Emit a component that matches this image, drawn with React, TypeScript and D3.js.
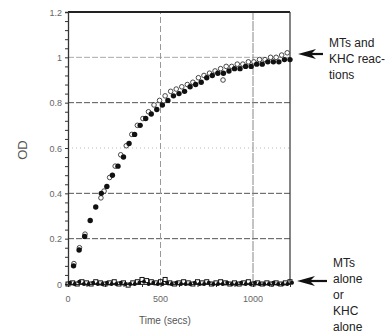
import { useRef, useEffect } from 'react';
import * as d3 from 'd3';

// reaction: filled markers
const fillTimes = [30, 60, 90, 120, 150, 180, 210, 240, 270, 300, 330, 360, 390, 420, 450, 480, 510, 540, 570, 600,
  630, 660, 690, 720, 750, 780, 810, 840, 870, 900, 930, 960, 990, 1020, 1050, 1080, 1110, 1140, 1170, 1200];
const fillOD = [0.08, 0.15, 0.21, 0.28, 0.34, 0.40, 0.43, 0.48, 0.52, 0.56, 0.62, 0.66, 0.70, 0.73, 0.75, 0.77, 0.79, 0.81, 0.83, 0.84,
  0.85, 0.87, 0.88, 0.89, 0.91, 0.92, 0.93, 0.93, 0.94, 0.95, 0.95, 0.96, 0.96, 0.97, 0.97, 0.98, 0.98, 0.98, 0.99, 0.99];

// reaction: open markers
const openTimes = [32, 62, 92, 178, 195, 225, 255, 285, 315, 345, 375, 405, 435, 465, 495, 525, 555, 585, 615, 645,
  675, 705, 735, 765, 795, 825, 838, 855, 885, 915, 945, 975, 1005, 1035, 1065, 1095, 1125, 1155, 1185];
const openOD = [0.09, 0.16, 0.22, 0.38, 0.41, 0.47, 0.52, 0.57, 0.61, 0.66, 0.70, 0.73, 0.76, 0.79, 0.81, 0.83, 0.85, 0.86, 0.87, 0.88,
  0.89, 0.91, 0.92, 0.93, 0.94, 0.95, 0.90, 0.96, 0.96, 0.97, 0.97, 0.98, 0.98, 0.99, 0.99, 1.0, 1.0, 1.01, 1.02];

// controls (MTs alone / KHC alone)
const ctrlTimes = [0, 25, 50, 75, 100, 125, 150, 175, 200, 225, 250, 275, 300, 325, 350, 375, 400, 425, 450, 475, 500,
  525, 550, 575, 600, 625, 650, 675, 700, 725, 750, 775, 800, 825, 850, 875, 900, 925, 950, 975, 1000,
  1025, 1050, 1075, 1100, 1125, 1150, 1175, 1200];
const ctrlA = [0.0, 0.005, 0.0, 0.01, 0.005, 0.0, 0.01, 0.005, 0.0, 0.005, 0.01, 0.0, 0.005, -0.005, 0.005, 0.01, 0.02, 0.015, 0.01, 0.005, 0.01,
  0.02, 0.005, 0.0, 0.005, 0.01, 0.005, 0.0, 0.01, 0.005, 0.01, 0.0, 0.005, 0.01, 0.005, 0.0, 0.005, 0.0, 0.005, 0.01, 0.0,
  0.005, 0.0, 0.005, 0.0, 0.005, 0.0, 0.005, 0.01];
const ctrlB = [0.005, 0.0, 0.01, 0.0, 0.0, 0.005, 0.0, 0.0, 0.005, 0.0, 0.0, 0.005, 0.0, 0.0, 0.0, 0.005, 0.01, 0.0, 0.005, 0.0, 0.0,
  0.005, 0.0, 0.005, 0.0, 0.0, 0.0, 0.005, 0.0, 0.0, 0.005, 0.0, 0.0, 0.0, 0.005, 0.0, 0.0, 0.005, 0.0, 0.0, 0.005,
  0.0, 0.0, 0.0, 0.005, 0.0, 0.0, 0.0, 0.005];

const yTicks = [0, 0.2, 0.4, 0.6, 0.8, 1, 1.2];
const xTicks = [0, 500, 1000];
const topLabel = ['MTs and', 'KHC reac-', 'tions'];
const bottomLabel = ['MTs', 'alone', 'or', 'KHC', 'alone'];

const App = () => {
  const svgRef = useRef(null);

  useEffect(() => {
    const svg = d3.select(svgRef.current);
    svg.selectAll('*').remove();

    const x = d3.scaleLinear().domain([0, 1200]).range([68, 290]);
    const y = d3.scaleLinear().domain([0, 1.2]).range([284, 12]);
    const grey = '#666';
    const font = 'Liberation Sans, Arial, sans-serif';

    // grid
    const g = svg.append('g');
    [0.2, 0.4, 0.8, 1].forEach((v) => {
      g.append('line').attr('x1', x(0)).attr('x2', x(1200)).attr('y1', y(v)).attr('y2', y(v))
        .attr('stroke', v === 1 ? '#aaa' : '#555').attr('stroke-width', 1).attr('stroke-dasharray', '6,2');
    });
    g.append('line').attr('x1', x(0)).attr('x2', x(1200)).attr('y1', y(0.6)).attr('y2', y(0.6))
      .attr('stroke', '#bbb').attr('stroke-dasharray', '1,3');
    [500, 1000].forEach((v) => {
      g.append('line').attr('x1', x(v)).attr('x2', x(v)).attr('y1', y(0)).attr('y2', y(1.2))
        .attr('stroke', v === 500 ? '#999' : '#888').attr('stroke-dasharray', v === 500 ? '6,3' : '10,1');
    });

    // frame
    svg.append('line').attr('x1', x(0)).attr('x2', x(1200)).attr('y1', y(1.2)).attr('y2', y(1.2))
      .attr('stroke', '#222').attr('stroke-width', 2);
    svg.append('line').attr('x1', x(1200)).attr('x2', x(1200)).attr('y1', y(1.2)).attr('y2', y(0))
      .attr('stroke', '#333').attr('stroke-width', 1.2);

    // axes
    const yAxis = d3.axisLeft(y).tickValues(d3.range(0, 1.201, 0.04)).tickSize(3).tickFormat(() => '');
    const ya = svg.append('g').attr('transform', `translate(${x(0)},0)`).call(yAxis);
    ya.selectAll('path, line').attr('stroke', '#333');
    ya.select('.domain').attr('stroke-width', 1.3);
    ya.selectAll('text').remove();
    yTicks.forEach((v) => {
      svg.append('text').attr('x', x(0) - 6).attr('y', y(v) + 3.5).attr('text-anchor', 'end')
        .attr('font-family', font).attr('font-size', 9).attr('fill', grey).text(String(v));
    });

    const xAxis = d3.axisBottom(x).tickValues(d3.range(0, 1201, 100)).tickSize(3).tickFormat(() => '');
    const xa = svg.append('g').attr('transform', `translate(0,${y(0)})`).call(xAxis);
    xa.selectAll('path, line').attr('stroke', '#333');
    xa.selectAll('text').remove();
    xTicks.forEach((v) => {
      svg.append('text').attr('x', x(v)).attr('y', y(0) + 18).attr('text-anchor', 'middle')
        .attr('font-family', font).attr('font-size', 9).attr('fill', grey).text(String(v));
    });

    svg.append('text').attr('x', 165).attr('y', 324).attr('text-anchor', 'middle')
      .attr('font-family', font).attr('font-size', 10).attr('fill', '#555').text('Time (secs)');
    svg.append('text').attr('transform', 'translate(27,150) rotate(-90)').attr('text-anchor', 'middle')
      .attr('font-family', font).attr('font-size', 13).attr('fill', '#555').text('OD');

    // controls
    const pts = svg.append('g');
    ctrlTimes.forEach((t, i) => {
      pts.append('rect').attr('x', x(t) - 2).attr('y', y(ctrlA[i]) - 2).attr('width', 4).attr('height', 4)
        .attr('fill', 'none').attr('stroke', '#111').attr('stroke-width', 1);
      pts.append('circle').attr('cx', x(t) + 2).attr('cy', y(ctrlB[i])).attr('r', 2).attr('fill', '#111');
    });

    // reaction
    openTimes.forEach((t, i) => {
      pts.append('circle').attr('cx', x(t)).attr('cy', y(openOD[i])).attr('r', 2.3)
        .attr('fill', 'white').attr('stroke', '#333').attr('stroke-width', 0.9);
    });
    fillTimes.forEach((t, i) => {
      pts.append('circle').attr('cx', x(t)).attr('cy', y(fillOD[i])).attr('r', 2.7).attr('fill', '#111');
    });

    // annotations
    const arrow = (tipX, tailX, yy) => {
      svg.append('line').attr('x1', tipX + 10).attr('x2', tailX).attr('y1', yy).attr('y2', yy)
        .attr('stroke', '#111').attr('stroke-width', 2.2);
      svg.append('path').attr('d', `M${tipX},${yy} L${tipX + 18},${yy - 5} L${tipX + 13},${yy} L${tipX + 18},${yy + 5} Z`)
        .attr('fill', '#111');
    };
    arrow(298, 323, 54);
    arrow(297, 327, 281);

    topLabel.forEach((s, i) => {
      svg.append('text').attr('x', 329).attr('y', 47 + i * 16).attr('font-family', font)
        .attr('font-size', 12).attr('fill', '#222').text(s);
    });
    bottomLabel.forEach((s, i) => {
      svg.append('text').attr('x', 333).attr('y', 267 + i * 16).attr('font-family', font)
        .attr('font-size', 12).attr('fill', '#222').text(s);
    });
  }, []);

  return (
    <svg ref={svgRef} width={391} height={333}
      style={{ position: 'absolute', left: 0, top: 0, background: 'white' }} />
  );
};

export default App;
